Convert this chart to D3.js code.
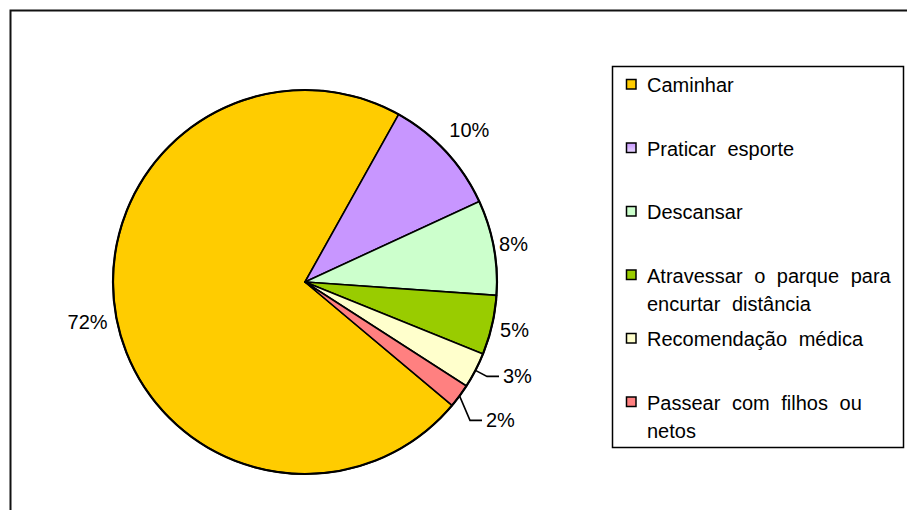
<!DOCTYPE html>
<html>
<head>
<meta charset="utf-8">
<script src="https://cdn.jsdelivr.net/npm/d3@7/dist/d3.min.js"></script>
<style>
  html, body { margin: 0; padding: 0; background: #ffffff; }
  svg { display: block; }
  text { font-family: "Liberation Sans", Arial, Helvetica, sans-serif; fill: #000; }
</style>
</head>
<body>
<svg id="chart" width="907" height="510"></svg>
<script>
// Motivos de uso do parque (percentual de respostas)
const categories = [
  "Caminhar",
  "Praticar esporte",
  "Descansar",
  "Atravessar o parque para encurtar distância",
  "Recomendação médica",
  "Passear com filhos ou netos"
];
const values = [72, 10, 8, 5, 3, 2];
const colors = ["#ffcc00", "url(#gradPurple)", "#ccffcc", "#99cc00", "#ffffcc", "#ff8080"];
const swatchColors = ["#ffcc00", "url(#gradPurpleSwatch)", "#ccffcc", "#99cc00", "#ffffcc", "#ff8080"];

const W = 907, H = 510;
const cx = 305, cy = 282, R = 192;
const firstSliceAngle = 130; // degrees, clockwise from 12 o'clock

const svg = d3.select("#chart");
const defs = svg.append("defs");

// Gradient fill for the "Praticar esporte" slice (darker at top, lighter toward the centre)
const g1 = defs.append("linearGradient")
  .attr("id", "gradPurple")
  .attr("gradientUnits", "userSpaceOnUse")
  .attr("x1", 0).attr("y1", cy - R + 20).attr("x2", 0).attr("y2", cy);
g1.append("stop").attr("offset", "0%").attr("stop-color", "#c896ff");
g1.append("stop").attr("offset", "100%").attr("stop-color", "#e8d6ff");

const g2 = defs.append("linearGradient")
  .attr("id", "gradPurpleSwatch")
  .attr("x1", 0).attr("y1", 0).attr("x2", 0).attr("y2", 1);
g2.append("stop").attr("offset", "0%").attr("stop-color", "#c896ff");
g2.append("stop").attr("offset", "100%").attr("stop-color", "#e8d6ff");

// Chart area border
svg.append("rect")
  .attr("x", 10.5).attr("y", 10.5)
  .attr("width", W + 20).attr("height", H + 20)
  .attr("fill", "none").attr("stroke", "#111").attr("stroke-width", 2);

// Pie
const start = firstSliceAngle * Math.PI / 180;
const pie = d3.pie().sort(null).value(d => d.v)
  .startAngle(start).endAngle(start + 2 * Math.PI);
const data = categories.map((c, i) => ({ c, v: values[i], i }));
const arcs = pie(data);
const arc = d3.arc().innerRadius(0).outerRadius(R);

const pieG = svg.append("g").attr("transform", `translate(${cx},${cy})`);
pieG.selectAll("path.slice")
  .data(arcs)
  .join("path")
  .attr("class", "slice")
  .attr("d", arc)
  .attr("fill", d => colors[d.data.i])
  .attr("stroke", "#000")
  .attr("stroke-width", 1.6)
  .attr("stroke-linejoin", "round");
// Heavier outer rim
pieG.append("circle").attr("r", R).attr("fill", "none")
  .attr("stroke", "#000").attr("stroke-width", 2.2);

// Data labels
const fmt = d => d3.format(".0f")(d.data.v) + "%";
const mid = d => (d.startAngle + d.endAngle) / 2;
const labelRadius = { 0: 221, 1: 224, 2: 212, 3: 215 };
const labelG = svg.append("g").attr("font-size", 20);

// Labels for the larger slices sit outside the rim
arcs.filter(d => d.data.v >= 4).forEach(d => {
  const a = mid(d), r = labelRadius[d.data.i] || 220;
  labelG.append("text")
    .attr("x", cx + r * Math.sin(a))
    .attr("y", cy - r * Math.cos(a))
    .attr("text-anchor", "middle")
    .attr("dominant-baseline", "central")
    .text(fmt(d));
});

// Labels for the small slices use leader lines, spaced to avoid overlap
const small = arcs.filter(d => d.data.v < 4)
  .map(d => {
    const a = mid(d);
    return {
      d, a,
      x0: cx + R * Math.sin(a), y0: cy - R * Math.cos(a),
      ex: cx + (R + 13) * Math.sin(a), ey: cy - (R + 13) * Math.cos(a)
    };
  })
  .sort((p, q) => p.ey - q.ey);
const minGap = 44;
for (let k = 1; k < small.length; k++) {
  if (small[k].ey - small[k - 1].ey < minGap) small[k].ey = small[k - 1].ey + minGap;
}
small.forEach(p => {
  labelG.append("path")
    .attr("d", d3.line()([[p.x0, p.y0], [p.ex, p.ey], [p.ex + 12, p.ey]]))
    .attr("fill", "none").attr("stroke", "#000").attr("stroke-width", 1.6);
  labelG.append("text")
    .attr("x", p.ex + 16).attr("y", p.ey)
    .attr("dominant-baseline", "central")
    .text(fmt(p.d));
});

// Legend
const lg = { x: 612.5, y: 66.5, w: 291, h: 381 };
const legend = svg.append("g");
legend.append("rect")
  .attr("x", lg.x).attr("y", lg.y).attr("width", lg.w).attr("height", lg.h)
  .attr("fill", "#fff").attr("stroke", "#000").attr("stroke-width", 1.5);

const rowStep = lg.h / categories.length;
const textX = lg.x + 34.5, maxW = lg.x + lg.w - 4 - textX;
categories.forEach((c, i) => {
  const y = lg.y + 18.5 + i * rowStep;
  legend.append("rect")
    .attr("x", lg.x + 14).attr("y", y - 5.5)
    .attr("width", 9.5).attr("height", 9.5)
    .attr("fill", swatchColors[i]).attr("stroke", "#000").attr("stroke-width", 1.5);
  const t = legend.append("text")
    .attr("x", textX).attr("y", y)
    .attr("font-size", 20)
    .attr("word-spacing", 6)
    .attr("dominant-baseline", "central");
  // wrap words to the legend width
  const words = c.split(" ");
  let line = [], lineNo = 0;
  let ts = t.append("tspan").attr("x", textX).attr("y", y);
  words.forEach(w => {
    line.push(w);
    ts.text(line.join(" "));
    if (ts.node().getComputedTextLength() > maxW && line.length > 1) {
      line.pop();
      ts.text(line.join(" "));
      line = [w];
      lineNo++;
      ts = t.append("tspan").attr("x", textX).attr("y", y + lineNo * 28).text(w);
    }
  });
});
</script>
</body>
</html>
